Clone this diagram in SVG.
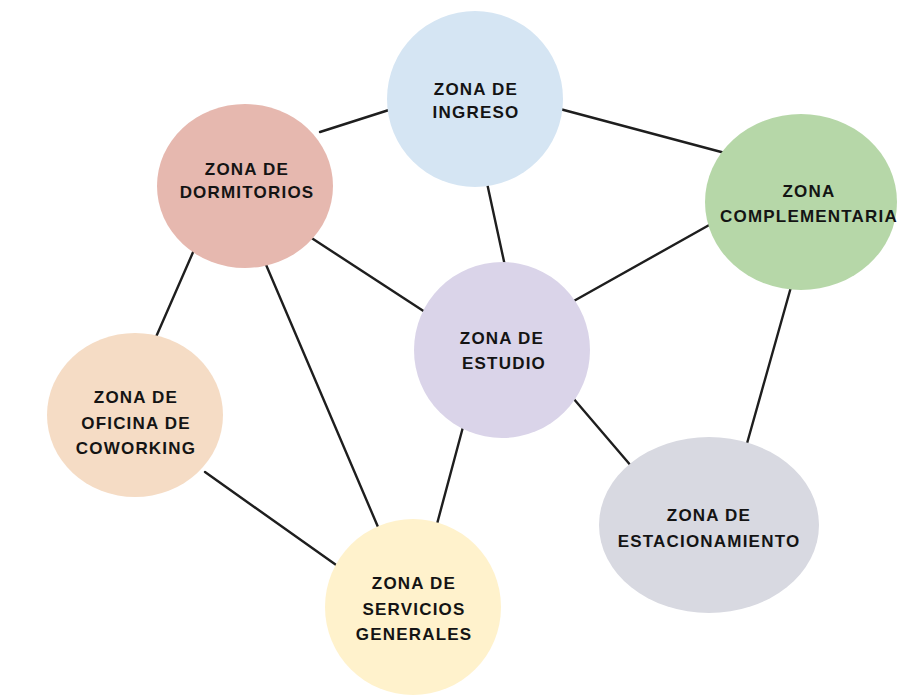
<svg xmlns="http://www.w3.org/2000/svg" width="903" height="700" viewBox="0 0 903 700">
<style>
.e{stroke:none}
.l{stroke:#1e1e1e;stroke-width:2.4;stroke-linecap:round;fill:none}
text{font-family:"Liberation Sans",Arial,sans-serif;font-weight:bold;font-size:17px;letter-spacing:1.2px;fill:#141414;text-anchor:middle}
</style>
<rect width="903" height="700" fill="#ffffff"/>
<g id="connectors">
<line class="l" x1="320" y1="132" x2="392" y2="109"/>
<line class="l" x1="560" y1="109" x2="725" y2="153"/>
<line class="l" x1="487" y1="183" x2="505" y2="266"/>
<line class="l" x1="711" y1="224" x2="572" y2="302"/>
<line class="l" x1="310" y1="237" x2="425" y2="312"/>
<line class="l" x1="194" y1="250" x2="156" y2="337"/>
<line class="l" x1="264" y1="260" x2="378" y2="527"/>
<line class="l" x1="463" y1="427" x2="437" y2="524"/>
<line class="l" x1="573" y1="398" x2="632" y2="467"/>
<line class="l" x1="791" y1="287" x2="746" y2="447"/>
<line class="l" x1="205" y1="472" x2="339" y2="567"/>
</g>
<g id="ingreso">
<ellipse class="e" cx="475" cy="99" rx="88" ry="88" fill="#D5E5F3"/>
<text x="476" y="95">ZONA DE</text>
<text x="476" y="118">INGRESO</text>
</g>
<g id="dormitorios">
<ellipse class="e" cx="245" cy="186" rx="88" ry="82" fill="#E6B8AF"/>
<text x="247" y="175">ZONA DE</text>
<text x="247" y="198">DORMITORIOS</text>
</g>
<g id="complementaria">
<ellipse class="e" cx="801" cy="202" rx="96" ry="88" fill="#B6D7A8"/>
<text x="809" y="197">ZONA</text>
<text x="809" y="222">COMPLEMENTARIA</text>
</g>
<g id="estudio">
<ellipse class="e" cx="502" cy="350" rx="88" ry="88" fill="#DAD4E9"/>
<text x="502" y="344">ZONA DE</text>
<text x="504" y="369">ESTUDIO</text>
</g>
<g id="coworking">
<ellipse class="e" cx="135" cy="415" rx="88" ry="82" fill="#F5DCC5"/>
<text x="136" y="403">ZONA DE</text>
<text x="136" y="429">OFICINA DE</text>
<text x="136" y="454">COWORKING</text>
</g>
<g id="servicios">
<ellipse class="e" cx="413" cy="607" rx="88" ry="88" fill="#FFF2CC"/>
<text x="414" y="589">ZONA DE</text>
<text x="414" y="615">SERVICIOS</text>
<text x="414" y="640">GENERALES</text>
</g>
<g id="estacionamiento">
<ellipse class="e" cx="709" cy="525" rx="110" ry="88" fill="#D8D9E1"/>
<text x="709" y="521">ZONA DE</text>
<text x="709" y="547">ESTACIONAMIENTO</text>
</g>
</svg>
